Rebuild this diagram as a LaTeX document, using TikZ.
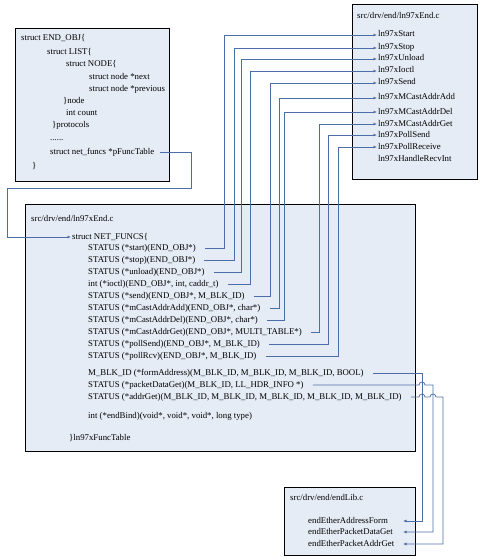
\documentclass[tikz,border=0pt]{standalone}
\usepackage{fontspec}
\setmainfont{Liberation Serif}
\usetikzlibrary{arrows.meta,calc}
\definecolor{panelblue}{HTML}{E6ECF6}
\definecolor{linkblue}{HTML}{4C6EA8}
\newcommand{\codefont}{\fontsize{8.8}{12}\selectfont}

\begin{document}
\begin{tikzpicture}[x=1pt, y=-1pt,
    panel/.style={draw=black, line width=0.9pt, fill=panelblue},
    code/.style={anchor=west, inner sep=1pt, font=\codefont, text height=6pt, text depth=2pt},
    link/.style={draw=linkblue, line width=0.75pt},
    ptr/.style={link, -{Latex[length=3.5pt,width=3pt]}}
]
\useasboundingbox (0,0) rectangle (480,559);

% Panels
\draw[panel] (15,28) rectangle (169,181);    % END_OBJ
\draw[panel] (352,4) rectangle (477,179);    % ln97xEnd.c functions
\draw[panel] (25,204) rectangle (415,451);   % NET_FUNCS table
\draw[panel] (284,487) rectangle (415,555);  % endLib.c

% END_OBJ
\node[code] (objHead) at (20,39) {struct END\_OBJ\{};
\node[code] (objList) at (46,53) {struct LIST\{};
\node[code] (objNode) at (65,65) {struct NODE\{};
\node[code] (objNext) at (88,78) {struct node *next};
\node[code] (objPrev) at (88,90) {struct node *previous};
\node[code] (objNodeEnd) at (62,102) {\}node};
\node[code] (objCount) at (65,114) {int count};
\node[code] (objProto) at (51,126) {\}protocols};
\node[code] (objDots) at (49,138) {......};
\node[code] (objTable) at (49,152) {struct net\_funcs *pFuncTable};
\node[code] (objEnd) at (31,166) {\}};

% ln97xEnd.c functions
\node[code] (drvHead) at (356,17) {src/drv/end/ln97xEnd.c};
\node[code] (tStart) at (377,35) {ln97xStart};
\node[code] (tStop) at (377,48) {ln97xStop};
\node[code] (tUnload) at (377,59) {ln97xUnload};
\node[code] (tIoctl) at (377,71) {ln97xIoctl};
\node[code] (tSend) at (377,83) {ln97xSend};
\node[code] (tAdd) at (377,98) {ln97xMCastAddrAdd};
\node[code] (tDel) at (377,112) {ln97xMCastAddrDel};
\node[code] (tGet) at (377,124) {ln97xMCastAddrGet};
\node[code] (tPollSend) at (377,135) {ln97xPollSend};
\node[code] (tPollRecv) at (377,147) {ln97xPollReceive};
\node[code] (tRecvInt) at (377,159) {ln97xHandleRecvInt};

% NET_FUNCS table
\node[code] (netFile) at (30,219) {src/drv/end/ln97xEnd.c};
\node[code] (netHead) at (71,237) {struct NET\_FUNCS\{};
\node[code] (fStart) at (87,248) {STATUS (*start)(END\_OBJ*)};
\node[code] (fStop) at (87,260) {STATUS (*stop)(END\_OBJ*)};
\node[code] (fUnload) at (87,272) {STATUS (*unload)(END\_OBJ*)};
\node[code] (fIoctl) at (87,284) {int (*ioctl)(END\_OBJ*, int, caddr\_t)};
\node[code] (fSend) at (87,296) {STATUS (*send)(END\_OBJ*, M\_BLK\_ID)};
\node[code] (fAdd) at (87,308) {STATUS (*mCastAddrAdd)(END\_OBJ*, char*)};
\node[code] (fDel) at (87,320) {STATUS (*mCastAddrDel)(END\_OBJ*, char*)};
\node[code] (fGet) at (87,332) {STATUS (*mCastAddrGet)(END\_OBJ*, MULTI\_TABLE*)};
\node[code] (fPollSend) at (87,344) {STATUS (*pollSend)(END\_OBJ*, M\_BLK\_ID)};
\node[code] (fPollRcv) at (87,356) {STATUS (*pollRcv)(END\_OBJ*, M\_BLK\_ID)};
\node[code] (fForm) at (87,373) {M\_BLK\_ID (*formAddress)(M\_BLK\_ID, M\_BLK\_ID, M\_BLK\_ID, BOOL)};
\node[code] (fPkt) at (87,385) {STATUS (*packetDataGet)(M\_BLK\_ID, LL\_HDR\_INFO *)};
\node[code] (fAddr) at (87,397) {STATUS (*addrGet)(M\_BLK\_ID, M\_BLK\_ID, M\_BLK\_ID, M\_BLK\_ID, M\_BLK\_ID)};
\node[code] (fBind) at (87,416) {int (*endBind)(void*, void*, void*, long type)};
\node[code] (netEnd) at (68,438) {\}ln97xFuncTable};

% endLib.c
\node[code] (libHead) at (289,498) {src/drv/end/endLib.c};
\node[code] (eForm) at (307,521) {endEtherAddressForm};
\node[code] (ePkt) at (307,532) {endEtherPacketDataGet};
\node[code] (eAddr) at (307,544) {endEtherPacketAddrGet};

% Rails
\coordinate (tblRail) at (191,188);
\coordinate (tblLeft) at (7,188);
\coordinate (r1) at (224,0);
\coordinate (r2) at (234,0);
\coordinate (r3) at (241,0);
\coordinate (r4) at (250,0);
\coordinate (r5) at (270,0);
\coordinate (r6) at (279,0);
\coordinate (r7) at (284,0);
\coordinate (r8) at (319,0);
\coordinate (r9) at (328,0);
\coordinate (r10) at (338,0);
\coordinate (b1) at (422,0);
\coordinate (b2) at (433,0);
\coordinate (b3) at (443,0);
\coordinate (tipX) at (403,0);

% pFuncTable -> NET_FUNCS
\draw[ptr] ([xshift=5pt]objTable.east) -| (tblRail) -- (tblLeft) |- (netHead.west);

% Table entries -> driver functions
\draw[ptr] ([xshift=8pt]fStart.east) -- (fStart.east -| r1) |- (tStart.west);
\draw[ptr] ([xshift=8pt]fStop.east) -- (fStop.east -| r2) |- (tStop.west);
\draw[ptr] ([xshift=8pt]fUnload.east) -- (fUnload.east -| r3) |- (tUnload.west);
\draw[ptr] ([xshift=8pt]fIoctl.east) -- (fIoctl.east -| r4) |- (tIoctl.west);
\draw[ptr] ([xshift=8pt]fSend.east) -- (fSend.east -| r5) |- (tSend.west);
\draw[ptr] ([xshift=8pt]fAdd.east) -- (fAdd.east -| r6) |- (tAdd.west);
\draw[ptr] ([xshift=8pt]fDel.east) -- (fDel.east -| r7) |- (tDel.west);
\draw[ptr] ([xshift=8pt]fGet.east) -- (fGet.east -| r8) |- (tGet.west);
\draw[ptr] ([xshift=8pt]fPollSend.east) -- (fPollSend.east -| r9) |- (tPollSend.west);
\draw[ptr] ([xshift=8pt]fPollRcv.east) -- (fPollRcv.east -| r10) |- (tPollRecv.west);

% Table entries -> endLib.c
\draw[ptr] ([xshift=8pt]fForm.east) -- (fForm.east -| b1) |- (eForm.east -| tipX);
\draw[ptr] ([xshift=8pt]fPkt.east) -- ($(fPkt.east -| b1)+(-3,0)$) arc[start angle=180, end angle=0, radius=3pt]
    -- (fPkt.east -| b2) |- (ePkt.east -| tipX);
\draw[ptr] ([xshift=8pt]fAddr.east) -- ($(fAddr.east -| b1)+(-3,0)$) arc[start angle=180, end angle=0, radius=3pt]
    -- ($(fAddr.east -| b2)+(-3,0)$) arc[start angle=180, end angle=0, radius=3pt]
    -- (fAddr.east -| b3) |- (eAddr.east -| tipX);

\end{tikzpicture}
\end{document}
